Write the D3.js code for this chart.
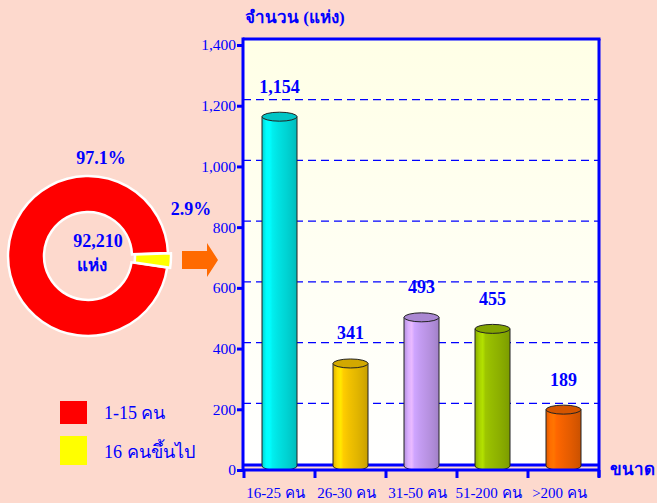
<!DOCTYPE html>
<html><head><meta charset="utf-8">
<script src="https://cdn.jsdelivr.net/npm/d3@7"></script>
<style>
html,body{margin:0;padding:0;background:#FDD9CD;}
svg{display:block;}
text{font-family:"Liberation Serif","Times New Roman",serif;}
</style></head>
<body>
<svg id="c" width="657" height="503"></svg>
<script>
const categories = ["16-25 คน","26-30 คน","31-50 คน","51-200 คน",">200 คน"];
const values = [1154, 341, 493, 455, 189];
const valueLabels = ["1,154","341","493","455","189"];
const barColors = ["#00E3E3","#F2C200","#C49CF2","#96BC00","#F46200"];
const yTicks = [0,200,400,600,800,1000,1200,1400];
const pieLabels = ["1-15 คน","16 คนขึ้นไป"];
const pieValues = [97.1, 2.9];
const pieColors = ["#FF0000","#FFFF00"];
const pieTotal = "92,210";
const pieUnit = "แห่ง";
const yTitle = "จำนวน (แห่ง)";
const xTitle = "ขนาด";

const blue = "#0000FF";
const svg = d3.select("#c");
const defs = svg.append("defs");

// ---- bar chart ----
const L = 243, R = 599, T = 39, depth = 6;
const y = d3.scaleLinear().domain([0,1400]).range([470,45]);
const x = d3.scaleBand().domain(categories).range([L+1, R]).paddingInner(0).paddingOuter(0);

const bg = defs.append("linearGradient").attr("id","plotbg").attr("x1",0).attr("y1",0).attr("x2",0).attr("y2",1);
bg.append("stop").attr("offset","0%").attr("stop-color","#FFFFE6");
bg.append("stop").attr("offset","100%").attr("stop-color","#FFFFFF");
svg.append("rect").attr("x",L).attr("y",T).attr("width",R-L).attr("height",y(0)-depth-T).attr("fill","url(#plotbg)");

// grid
svg.append("g").selectAll("line").data(yTicks.filter(v=>v>0 && v<1400)).join("line")
  .attr("x1",L).attr("x2",R).attr("y1",d=>y(d)-depth).attr("y2",d=>y(d)-depth)
  .attr("stroke",blue).attr("stroke-width",1.2).attr("stroke-dasharray","8,5");

// borders
svg.append("line").attr("x1",L).attr("x2",R+1.5).attr("y1",T).attr("y2",T).attr("stroke",blue).attr("stroke-width",3);
svg.append("line").attr("x1",R).attr("x2",R).attr("y1",T).attr("y2",y(0)+7).attr("stroke",blue).attr("stroke-width",3);
svg.append("line").attr("x1",L).attr("x2",R).attr("y1",y(0)-depth+1).attr("y2",y(0)-depth+1).attr("stroke",blue).attr("stroke-width",3);

// cylinders
function shade(c,k){return d3.color(c).darker(k).formatHex();}
function lighten(c,k){return d3.color(c).brighter(k).formatHex();}
values.forEach((v,i)=>{
  const g = defs.append("linearGradient").attr("id","bg"+i).attr("x1",0).attr("y1",0).attr("x2",1).attr("y2",0);
  const base = barColors[i];
  [[0,shade(base,0.25)],[0.12,lighten(base,0.3)],[0.22,lighten(base,0.5)],[0.3,lighten(base,0.15)],[0.45,base],[0.7,shade(base,0.2)],[0.85,shade(base,0.35)],[1,shade(base,0.55)]]
    .forEach(([o,c])=>g.append("stop").attr("offset",o).attr("stop-color",c));
});
const bw = 35, ry = 4.5;
const bars = svg.append("g").selectAll("g").data(values).join("g");
bars.each(function(v,i){
  const g = d3.select(this);
  const cx = x(categories[i]) + x.bandwidth()/2;
  const top = y(v) - 3, bot = y(0) - 4;
  g.append("path")
    .attr("d",`M${cx-bw/2},${top} L${cx-bw/2},${bot} A${bw/2},${ry} 0 0 0 ${cx+bw/2},${bot} L${cx+bw/2},${top} Z`)
    .attr("fill",`url(#bg${i})`).attr("stroke","#222").attr("stroke-width",1);
  g.append("ellipse").attr("cx",cx).attr("cy",top).attr("rx",bw/2).attr("ry",ry)
    .attr("fill",shade(barColors[i],0.4)).attr("stroke","#222").attr("stroke-width",1);
  g.append("text").attr("x",cx).attr("y",top-24).attr("text-anchor","middle")
    .attr("font-size",18).attr("font-weight","bold").attr("fill",blue).text(valueLabels[i]);
});

// axes
const yAxis = d3.axisLeft(y).tickValues(yTicks).tickSize(6).tickFormat(d3.format(","));
const ya = svg.append("g").attr("transform",`translate(${L},0)`).call(yAxis);
ya.select(".domain").attr("stroke",blue).attr("stroke-width",3).attr("d",`M0,${T-1.5}V${y(0)+1.5}`);
ya.selectAll(".tick line").attr("stroke",blue).attr("stroke-width",3);
ya.selectAll(".tick text").attr("fill",blue).attr("font-size",15.5).attr("font-family","Liberation Serif").attr("x",-7);

const xAxis = d3.axisBottom(x).tickSize(0).tickFormat(d=>d);
const xa = svg.append("g").attr("transform",`translate(0,${y(0)})`).call(xAxis);
xa.select(".domain").attr("stroke",blue).attr("stroke-width",3).attr("d",`M${L},0H${R+1}`);
xa.selectAll(".tick text").attr("fill",blue).attr("font-size",15).attr("font-family","Liberation Serif").attr("dy",0).attr("y",28).attr("dx",-4);
// category separators
svg.append("g").selectAll("line").data(categories.map(c=>x(c)).concat([R])).join("line")
  .attr("x1",d=>d).attr("x2",d=>d).attr("y1",y(0)).attr("y2",y(0)+8).attr("stroke",blue).attr("stroke-width",3);

svg.append("text").attr("x",245).attr("y",23).attr("font-size",17).attr("font-weight","bold").attr("fill",blue).text(yTitle);
svg.append("text").attr("x",655).attr("y",475).attr("text-anchor","end").attr("font-size",17).attr("font-weight","bold").attr("fill",blue).text(xTitle);

// ---- donut ----
const cx0 = 88, cy0 = 256;
const pie = d3.pie().sort(null).startAngle(Math.PI/2 + 10.4*Math.PI/180*0.8).endAngle(Math.PI/2 + 10.4*Math.PI/180*0.8 + 2*Math.PI);
const arcs = pie(pieValues);
const arc = d3.arc().innerRadius(44).outerRadius(80);
const pg = svg.append("g").attr("transform",`translate(${cx0},${cy0})`);
pg.selectAll("path").data(arcs).join("path")
  .attr("d",arc).attr("fill",(d,i)=>pieColors[i]).attr("stroke","#FFFFFF").attr("stroke-width",2.5)
  .attr("transform",(d,i)=>{ if(i===0) return null; const m=(d.startAngle+d.endAngle)/2; return `translate(${Math.sin(m)*3},${-Math.cos(m)*3})`; });
svg.append("text").attr("x",101).attr("y",164).attr("text-anchor","middle").attr("font-size",18).attr("font-weight","bold").attr("fill",blue).text(pieValues[0].toFixed(1)+"%");
svg.append("text").attr("x",191).attr("y",215).attr("text-anchor","middle").attr("font-size",18).attr("font-weight","bold").attr("fill",blue).text(pieValues[1].toFixed(1)+"%");
svg.append("text").attr("x",98).attr("y",247).attr("text-anchor","middle").attr("font-size",18).attr("font-weight","bold").attr("fill",blue).text(pieTotal);
svg.append("text").attr("x",92).attr("y",271).attr("text-anchor","middle").attr("font-size",17).attr("font-weight","bold").attr("fill",blue).text(pieUnit);

// arrow
svg.append("path").attr("d","M182,251 H207 V243 L218,260 L207,277 V269 H182 Z").attr("fill","#FF6A00");

// legend
const lg = svg.append("g");
pieLabels.forEach((lab,i)=>{
  lg.append("rect").attr("x",60).attr("y",401+i*35).attr("width",27).attr("height",i?29:23).attr("fill",pieColors[i]);
  lg.append("text").attr("x",104).attr("y",419+i*39).attr("font-size",18).attr("fill",blue).text(lab);
});
</script>
</body></html>
